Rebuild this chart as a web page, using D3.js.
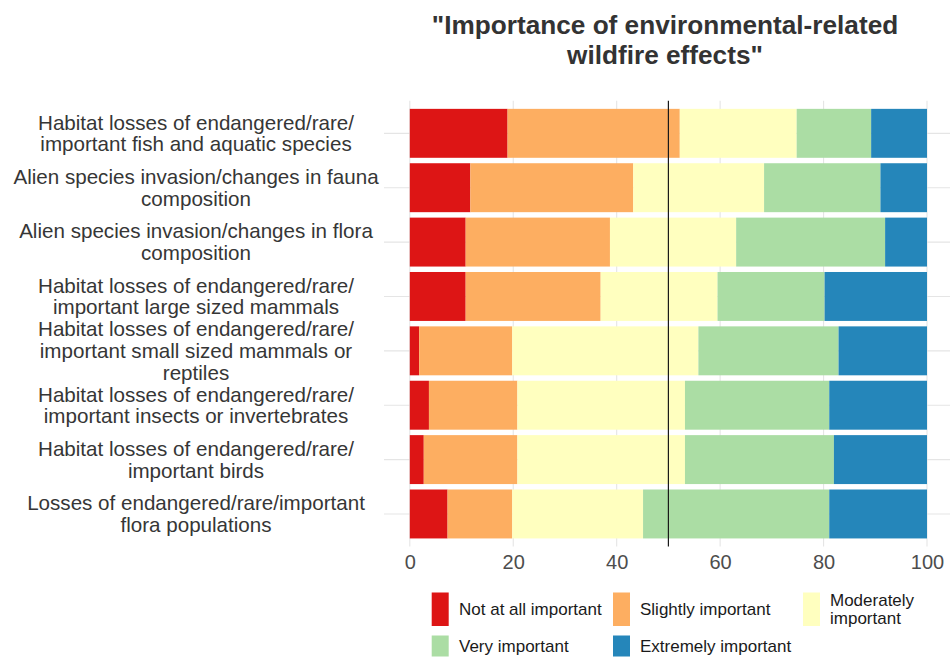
<!DOCTYPE html>
<html>
<head>
<meta charset="utf-8">
<script src="https://cdn.jsdelivr.net/npm/d3@7"></script>
<style>
  html, body { margin: 0; padding: 0; background: #fff; }
  svg { display: block; font-family: "Liberation Sans", Arial, sans-serif; }
</style>
</head>
<body>
<svg id="chart" width="950" height="657"></svg>
<script>
const titleLines = ['"Importance of environmental-related', 'wildfire effects"'];

const categories = [
  "Habitat losses of endangered/rare/\nimportant fish and aquatic species",
  "Alien species invasion/changes in fauna\ncomposition",
  "Alien species invasion/changes in flora\ncomposition",
  "Habitat losses of endangered/rare/\nimportant large sized mammals",
  "Habitat losses of endangered/rare/\nimportant small sized mammals or\nreptiles",
  "Habitat losses of endangered/rare/\nimportant insects or invertebrates",
  "Habitat losses of endangered/rare/\nimportant birds",
  "Losses of endangered/rare/important\nflora populations"
];

const levels = ["Not at all important", "Slightly important", "Moderately\nimportant", "Very important", "Extremely important"];
const colors = ["#dd1515", "#fdae61", "#ffffbf", "#abdda4", "#2586ba"];

const notAtAll   = [18.9, 11.7, 10.8, 10.8, 1.8, 3.7, 2.7, 7.3];
const slightly   = [33.3, 31.5, 27.9, 26.1, 18.0, 17.1, 18.1, 12.5];
const moderately = [22.6, 25.3, 24.4, 22.6, 36.0, 32.4, 32.4, 25.3];
const very       = [14.4, 22.5, 28.8, 20.7, 27.1, 27.9, 28.8, 36.0];
const extremely  = [10.8,  9.0,  8.1, 19.8, 17.1, 18.9, 18.0, 18.9];

const xTicks = [0, 20, 40, 60, 80, 100];
const midValue = 50;

const seriesValues = [notAtAll, slightly, moderately, very, extremely];
const table = categories.map((c, i) => {
  const row = { cat: c };
  levels.forEach((l, j) => row[l] = seriesValues[j][i]);
  return row;
});

const svg = d3.select("#chart");
const panel = { left: 384, right: 953, top: 100.7, bottom: 546.6 };

const x = d3.scaleLinear().domain([0, 100]).range([409.8, 927]);
const y = d3.scaleBand().domain(categories)
  .range([panel.top, panel.bottom]).paddingInner(0.1).paddingOuter(0.15);
const color = d3.scaleOrdinal().domain(levels).range(colors);

// grid
const grid = svg.append("g");
grid.selectAll("line.v").data(xTicks).join("line")
  .attr("x1", d => x(d)).attr("x2", d => x(d))
  .attr("y1", panel.top).attr("y2", panel.bottom)
  .attr("stroke", "#e5e5e5").attr("stroke-width", 1.1);
grid.selectAll("line.h").data(categories).join("line")
  .attr("x1", panel.left).attr("x2", panel.right)
  .attr("y1", d => y(d) + y.bandwidth() / 2).attr("y2", d => y(d) + y.bandwidth() / 2)
  .attr("stroke", "#e5e5e5").attr("stroke-width", 1.1);

// stacked bars
const stack = d3.stack().keys(levels)(table);
svg.append("g").selectAll("g").data(stack).join("g")
  .attr("fill", d => color(d.key))
  .selectAll("rect").data(d => d).join("rect")
  .attr("x", d => x(d[0]))
  .attr("width", d => x(d[1]) - x(d[0]))
  .attr("y", d => y(d.data.cat))
  .attr("height", y.bandwidth());

// midline
svg.append("line")
  .attr("x1", x(midValue)).attr("x2", x(midValue))
  .attr("y1", panel.top).attr("y2", panel.bottom)
  .attr("stroke", "#1a1a1a").attr("stroke-width", 1.2);

// x axis labels
const xAxis = d3.axisBottom(x).tickValues(xTicks).tickSize(0).tickPadding(0);
const gx = svg.append("g").attr("transform", `translate(0,${panel.bottom})`).call(xAxis);
gx.select(".domain").remove();
gx.selectAll("text")
  .attr("y", 8).attr("dy", "0.71em")
  .attr("font-size", 20).attr("fill", "#4d4d4d")
  .attr("font-family", '"Liberation Sans", Arial, sans-serif');

// y labels
const lineH = 21.6;
const gy = svg.append("g");
categories.forEach(c => {
  const lines = c.split("\n");
  const cy = y(c) + y.bandwidth() / 2;
  const t = gy.append("text")
    .attr("x", 196).attr("text-anchor", "middle")
    .attr("font-size", 20.6).attr("fill", "#363636");
  lines.forEach((ln, i) => {
    t.append("tspan").attr("x", 196)
      .attr("y", cy + (i - (lines.length - 1) / 2) * lineH)
      .attr("dy", "0.35em").text(ln);
  });
});

// title
const tt = svg.append("text").attr("text-anchor", "middle")
  .attr("font-size", 26.2).attr("font-weight", "bold").attr("fill", "#333");
titleLines.forEach((ln, i) => {
  tt.append("tspan").attr("x", 665).attr("y", 25 + i * 30).attr("dy", "0.35em").text(ln);
});

// legend
const legendPos = [
  { kx: 431.7, ky: 592.5, kh: 33.5, tx: 459 },
  { kx: 613, ky: 592.5, kh: 33.5, tx: 640 },
  { kx: 803, ky: 592.5, kh: 33.5, tx: 830 },
  { kx: 431.7, ky: 635.5, kh: 21, tx: 459 },
  { kx: 613, ky: 635.5, kh: 21, tx: 640 }
];
const lg = svg.append("g");
levels.forEach((l, i) => {
  const p = legendPos[i];
  lg.append("rect").attr("x", p.kx).attr("y", p.ky)
    .attr("width", 17).attr("height", p.kh).attr("fill", color(l));
  const lines = l.split("\n");
  const cy = p.ky + p.kh / 2;
  const t = lg.append("text").attr("font-size", 17).attr("fill", "#1a1a1a");
  lines.forEach((ln, j) => {
    t.append("tspan").attr("x", p.tx)
      .attr("y", cy + (j - (lines.length - 1) / 2) * 18)
      .attr("dy", "0.35em").text(ln);
  });
});
</script>
</body>
</html>
